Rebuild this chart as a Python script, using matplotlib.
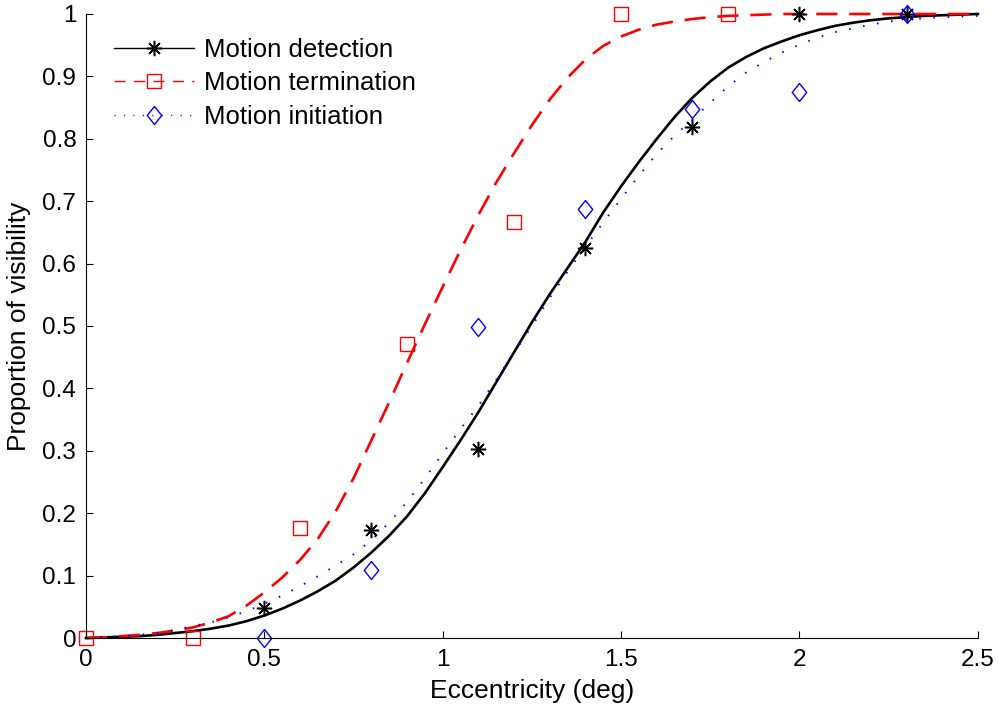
import matplotlib.pyplot as plt
from matplotlib.lines import Line2D
from matplotlib.ticker import FormatStrFormatter

plt.rcParams['font.family'] = ['Liberation Sans', 'DejaVu Sans']

# measured points
det_x = [0.5, 0.8, 1.1, 1.4, 1.7, 2.0, 2.3]
det_y = [0.048, 0.173, 0.303, 0.625, 0.819, 1.0, 1.0]

term_x = [0.0, 0.3, 0.6, 0.9, 1.2, 1.5, 1.8]
term_y = [0.0, 0.0, 0.176, 0.471, 0.666, 1.0, 1.0]

init_x = [0.5, 0.8, 1.1, 1.4, 1.7, 2.0, 2.3]
init_y = [0.0, 0.109, 0.499, 0.6875, 0.848, 0.8755, 1.0]

# fitted curves, every 0.05 deg
fit_x = [0.00, 0.05, 0.10, 0.15, 0.20, 0.25, 0.30, 0.35, 0.40, 0.45,
         0.50, 0.55, 0.60, 0.65, 0.70, 0.75, 0.80, 0.85, 0.90, 0.95,
         1.00, 1.05, 1.10, 1.15, 1.20, 1.25, 1.30, 1.35, 1.40, 1.45,
         1.50, 1.55, 1.60, 1.65, 1.70, 1.75, 1.80, 1.85, 1.90, 1.95,
         2.00, 2.05, 2.10, 2.15, 2.20, 2.25, 2.30, 2.35, 2.40, 2.45, 2.50]
det_fit = [0.000, 0.001, 0.002, 0.003, 0.005, 0.008, 0.011, 0.015, 0.020, 0.027,
           0.036, 0.047, 0.060, 0.075, 0.092, 0.113, 0.137, 0.164, 0.195, 0.232,
           0.274, 0.317, 0.362, 0.410, 0.458, 0.506, 0.551, 0.593, 0.635, 0.682,
           0.724, 0.763, 0.800, 0.835, 0.866, 0.892, 0.914, 0.931, 0.945, 0.956,
           0.966, 0.974, 0.981, 0.986, 0.990, 0.993, 0.995, 0.997, 0.998, 0.999, 1.000]
term_fit = [0.000, 0.001, 0.003, 0.005, 0.008, 0.012, 0.017, 0.025, 0.035, 0.052,
            0.073, 0.097, 0.125, 0.159, 0.203, 0.256, 0.317, 0.378, 0.441, 0.503,
            0.563, 0.622, 0.678, 0.730, 0.777, 0.822, 0.863, 0.898, 0.927, 0.949,
            0.964, 0.975, 0.983, 0.988, 0.992, 0.995, 0.997, 0.998, 0.999, 1.000,
            1.000, 1.000, 1.000, 1.000, 1.000, 1.000, 1.000, 1.000, 1.000, 1.000, 1.000]
init_fit = [0.000, 0.001, 0.003, 0.005, 0.008, 0.013, 0.019, 0.025, 0.033, 0.043,
            0.055, 0.068, 0.083, 0.099, 0.116, 0.134, 0.157, 0.185, 0.218, 0.256,
            0.296, 0.335, 0.372, 0.414, 0.457, 0.500, 0.545, 0.587, 0.627, 0.666,
            0.704, 0.741, 0.776, 0.805, 0.831, 0.858, 0.884, 0.906, 0.923, 0.938,
            0.951, 0.962, 0.971, 0.977, 0.983, 0.988, 0.991, 0.993, 0.995, 0.996, 0.997]

labels = ['Motion detection', 'Motion termination', 'Motion initiation']

star = (8, 2, 0)
diamond = [(0, 1), (0.8, 0), (0, -1), (-0.8, 0), (0, 1)]

fig = plt.figure(figsize=(10.01, 7.10), dpi=100)
ax = fig.add_axes([0.0859, 0.1014, 0.891, 0.8789])

ax.plot(fit_x, det_fit, color='black', lw=1.9, clip_on=False)
ax.plot(fit_x, term_fit, color='red', lw=1.9, dashes=(8, 4.5), clip_on=False)
ax.plot(fit_x, init_fit, color='blue', lw=1.4, dashes=(0.8, 6.5), clip_on=False)

ax.plot(det_x, det_y, ls='none', marker=star, ms=11, mec='black', mew=1.1, clip_on=False)
ax.plot(term_x, term_y, ls='none', marker='s', ms=10, mfc='none', mec='red', mew=1.0, clip_on=False)
ax.plot(init_x, init_y, ls='none', marker=diamond, ms=13, mfc='none', mec='blue', mew=1.0, clip_on=False)

handles = [
    Line2D([], [], color='black', lw=1.0, marker=star, ms=11, mec='black', mew=1.1),
    Line2D([], [], color='red', lw=1.0, dashes=(8, 6), marker='s', ms=10, mfc='none', mec='red'),
    Line2D([], [], color='blue', lw=1.0, dashes=(0.8, 6), marker=diamond, ms=13, mfc='none', mec='blue'),
]
ax.legend(handles, labels, loc='upper left', bbox_to_anchor=(0.017, 0.982),
          frameon=False, borderpad=0, handlelength=3.1, handletextpad=0.39,
          labelspacing=0.36, fontsize=18.5)

ax.set_xlim(0, 2.5)
ax.set_ylim(0, 1)
ax.set_xticks([0, 0.5, 1, 1.5, 2, 2.5])
ax.set_yticks([0, 0.1, 0.2, 0.3, 0.4, 0.5, 0.6, 0.7, 0.8, 0.9, 1])
ax.xaxis.set_major_formatter(FormatStrFormatter('%g'))
ax.yaxis.set_major_formatter(FormatStrFormatter('%g'))
ax.tick_params(direction='in', length=5, width=0.8, labelsize=17.5)
ax.tick_params(axis='x', pad=8)
ax.tick_params(axis='y', pad=7)

ax.spines['top'].set_visible(False)
ax.spines['right'].set_visible(False)
ax.spines['left'].set_linewidth(0.8)
ax.spines['bottom'].set_linewidth(0.8)

ax.set_xlabel('Eccentricity (deg)', fontsize=19, labelpad=6)
ax.set_ylabel('Proportion of visibility', fontsize=19, labelpad=8)

fig.savefig('out.png', dpi=100)
